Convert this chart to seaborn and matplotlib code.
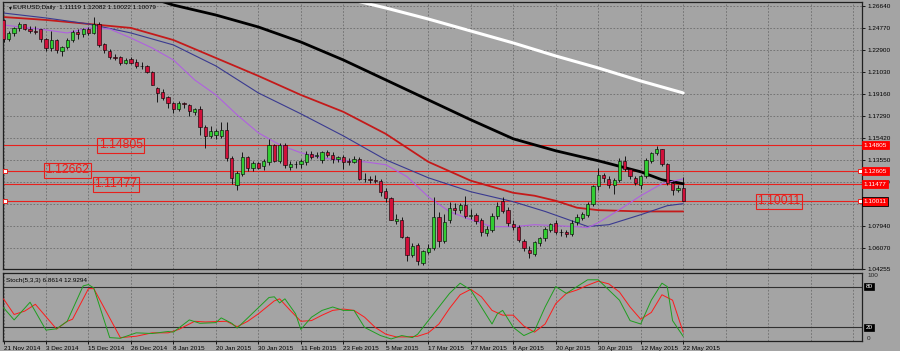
import numpy as np
import matplotlib
matplotlib.use("Agg")
import matplotlib.pyplot as plt
import seaborn as sns

# ---------------- data ----------------
opens = [1.2545, 1.2389, 1.2440, 1.2478, 1.2510, 1.2475, 1.2452, 1.2470, 1.2385, 1.2310,
         1.2378, 1.2280, 1.2320, 1.2378, 1.2448, 1.2425, 1.2475, 1.2437, 1.2512, 1.2342,
         1.2286, 1.2230, 1.2230, 1.2179, 1.2218, 1.2188, 1.2158, 1.2157, 1.2108, 1.1969,
         1.1935, 1.1893, 1.1841, 1.1790, 1.1841, 1.1824, 1.1765, 1.1788, 1.1634, 1.1555,
         1.1565, 1.1560, 1.1608, 1.1373, 1.1144, 1.1237, 1.1381, 1.1288, 1.1330, 1.1300,
         1.1334, 1.1484, 1.1342, 1.1484, 1.1294, 1.1322, 1.1322, 1.1334, 1.1405, 1.1390,
         1.1356, 1.1419, 1.1399, 1.1365, 1.1384, 1.1342, 1.1339, 1.1362, 1.1192, 1.1190,
         1.1185, 1.1178, 1.1087, 1.1030, 1.0831, 1.0846, 1.0696, 1.0548, 1.0633, 1.0477,
         1.0567, 1.0605, 1.0870, 1.0661, 1.0846, 1.0948, 1.0931, 1.0974, 1.0874, 1.0888,
         1.0846, 1.0733, 1.0760, 1.0874, 1.1002, 1.0925, 1.0809, 1.0783, 1.0661, 1.0590,
         1.0556, 1.0647, 1.0690, 1.0760, 1.0817, 1.0737, 1.0737, 1.0726, 1.0823, 1.0860,
         1.0888, 1.0982, 1.1129, 1.1229, 1.1192, 1.1144, 1.1186, 1.1350, 1.1277, 1.1201,
         1.1144, 1.1214, 1.1350, 1.1413, 1.1447, 1.1320, 1.1158, 1.1095, 1.11119]
highs = [1.2555, 1.2455, 1.2490, 1.2530, 1.2515, 1.2500, 1.2500, 1.2475, 1.2395, 1.2455,
         1.2385, 1.2325, 1.2390, 1.2460, 1.2470, 1.2480, 1.2485, 1.2575, 1.2530, 1.2352,
         1.2300, 1.2262, 1.2245, 1.2225, 1.2232, 1.2215, 1.2190, 1.2165, 1.2110, 1.1975,
         1.1960, 1.1900, 1.1845, 1.1860, 1.1850, 1.1835, 1.1800, 1.1815, 1.1650, 1.1640,
         1.1620, 1.1680, 1.1680, 1.1385, 1.1260, 1.1425, 1.1390, 1.1350, 1.1340, 1.1360,
         1.1535, 1.1490, 1.1500, 1.1498, 1.1345, 1.1350, 1.1360, 1.1430, 1.1430, 1.1420,
         1.1430, 1.1440, 1.1420, 1.1390, 1.1395, 1.1370, 1.1390, 1.1380, 1.1240, 1.1215,
         1.1230, 1.1190, 1.1115, 1.1040, 1.0890, 1.0870, 1.0710, 1.0650, 1.0645, 1.0590,
         1.0640, 1.1040, 1.0910, 1.0890, 1.1000, 1.0985, 1.0990, 1.1050, 1.0940, 1.0900,
         1.0860, 1.0790, 1.0900, 1.1000, 1.1035, 1.0950, 1.0845, 1.0800, 1.0680, 1.0620,
         1.0665, 1.0700, 1.0780, 1.0820, 1.0840, 1.0770, 1.0760, 1.0845, 1.0890, 1.0910,
         1.0995, 1.1140, 1.1290, 1.1240, 1.1220, 1.1200, 1.1370, 1.1390, 1.1290, 1.1220,
         1.1230, 1.1370, 1.1425, 1.1470, 1.1450, 1.1330, 1.1175, 1.1140, 1.12082]
lows = [1.2358, 1.2370, 1.2410, 1.2455, 1.2462, 1.2440, 1.2425, 1.2360, 1.2285, 1.2280,
        1.2265, 1.2245, 1.2300, 1.2360, 1.2385, 1.2405, 1.2420, 1.2425, 1.2320, 1.2270,
        1.2215, 1.2205, 1.2165, 1.2170, 1.2170, 1.2140, 1.2130, 1.2095, 1.1990, 1.1852,
        1.1870, 1.1800, 1.1756, 1.1775, 1.1800, 1.1730, 1.1735, 1.1570, 1.1459, 1.1540,
        1.1530, 1.1545, 1.1345, 1.1150, 1.1098, 1.1220, 1.1260, 1.1260, 1.1275, 1.1270,
        1.1315, 1.1340, 1.1330, 1.1290, 1.1270, 1.1290, 1.1290, 1.1310, 1.1360, 1.1370,
        1.1330, 1.1380, 1.1330, 1.1340, 1.1280, 1.1310, 1.1325, 1.1180, 1.1170, 1.1160,
        1.1160, 1.1050, 1.1000, 1.0840, 1.0810, 1.0690, 1.0495, 1.0530, 1.0460, 1.0460,
        1.0550, 1.0590, 1.0615, 1.0650, 1.0820, 1.0890, 1.0900, 1.0860, 1.0850, 1.0810,
        1.0710, 1.0710, 1.0740, 1.0850, 1.0900, 1.0790, 1.0760, 1.0655, 1.0580, 1.0520,
        1.0535, 1.0620, 1.0665, 1.0740, 1.0720, 1.0705, 1.0700, 1.0710, 1.0800, 1.0840,
        1.0870, 1.0960, 1.1100, 1.1170, 1.1120, 1.1067, 1.1170, 1.1260, 1.1190, 1.1140,
        1.1110, 1.1200, 1.1330, 1.1400, 1.1300, 1.1140, 1.1060, 1.1085, 1.10022]
closes = [1.2389, 1.2440, 1.2478, 1.2510, 1.2475, 1.2452, 1.2445, 1.2385, 1.2310, 1.2378,
          1.2290, 1.2320, 1.2378, 1.2448, 1.2430, 1.2468, 1.2435, 1.2512, 1.2338, 1.2292,
          1.2230, 1.2228, 1.2179, 1.2205, 1.2180, 1.2158, 1.2155, 1.2108, 1.1995, 1.1926,
          1.1884, 1.1841, 1.1790, 1.1841, 1.1835, 1.1776, 1.1788, 1.1634, 1.1561, 1.1600,
          1.1600, 1.1608, 1.1373, 1.1203, 1.1246, 1.1381, 1.1288, 1.1330, 1.1290, 1.1342,
          1.1484, 1.1345, 1.1480, 1.1308, 1.1322, 1.1322, 1.1342, 1.1405, 1.1380, 1.1399,
          1.1419, 1.1399, 1.1365, 1.1382, 1.1334, 1.1340, 1.1362, 1.1192, 1.1195, 1.1183,
          1.1172, 1.1078, 1.1030, 1.0846, 1.0854, 1.0696, 1.0548, 1.0624, 1.0491, 1.0576,
          1.0607, 1.0868, 1.0661, 1.0823, 1.0948, 1.0925, 1.0974, 1.0874, 1.0884, 1.0831,
          1.0738, 1.0767, 1.0879, 1.0965, 1.0917, 1.0817, 1.0780, 1.0669, 1.0605, 1.0562,
          1.0652, 1.0690, 1.0767, 1.0811, 1.0737, 1.0737, 1.0726, 1.0817, 1.0868, 1.0897,
          1.0982, 1.1129, 1.1229, 1.1201, 1.1144, 1.1186, 1.1350, 1.1277, 1.1214, 1.1158,
          1.1214, 1.1356, 1.1413, 1.1447, 1.1320, 1.1158, 1.1101, 1.1115, 1.10079]

date_labels = ["21 Nov 2014", "3 Dec 2014", "15 Dec 2014", "26 Dec 2014", "8 Jan 2015",
               "20 Jan 2015", "30 Jan 2015", "11 Feb 2015", "23 Feb 2015", "5 Mar 2015",
               "17 Mar 2015", "27 Mar 2015", "8 Apr 2015", "20 Apr 2015", "30 Apr 2015",
               "12 May 2015", "22 May 2015"]
price_ticks = [1.26640, 1.24770, 1.22900, 1.21030, 1.19160, 1.17290, 1.15420,
               1.13550, 1.11680, 1.09810, 1.07940, 1.06070, 1.04255]
hidden_ticks = [1.09810]  # covered by the 1.10011 tag in the original

# moving averages (bar index, price)
ma_white_bar = [66, 72, 80, 88, 96, 104, 112, 120, 128]
ma_white = [1.2715, 1.2650, 1.2556, 1.2454, 1.2352, 1.2241, 1.2139, 1.2028, 1.1926]
ma_black_bar = [29, 32, 40, 48, 56, 64, 72, 80, 88, 96, 104, 112, 120, 124, 128]
ma_black = [1.2718, 1.2675, 1.2590, 1.2488, 1.2360, 1.2207, 1.2037, 1.1867, 1.1697,
            1.1535, 1.1433, 1.1348, 1.1254, 1.1186, 1.1152]
ma_red_bar = [0, 8, 16, 24, 32, 40, 48, 56, 64, 72, 80, 88, 96, 100, 104, 108, 112, 120, 128]
ma_red = [1.2573, 1.2548, 1.2514, 1.2480, 1.2377, 1.2224, 1.2071, 1.1909, 1.1765, 1.1577,
          1.1339, 1.1178, 1.1075, 1.1050, 1.1007, 1.0948, 1.0927, 1.0916, 1.0916]
ma_blue_bar = [0, 8, 16, 24, 32, 40, 48, 56, 64, 72, 80, 88, 96, 102, 108, 110, 114, 120, 125, 128]
ma_blue = [1.2607, 1.2565, 1.2514, 1.2437, 1.2335, 1.2156, 1.1926, 1.1748, 1.1560, 1.1356,
           1.1203, 1.1084, 1.0999, 1.0916, 1.0820, 1.0788, 1.0803, 1.0888, 1.0965, 1.0982]
ma_purple_bar = [0, 8, 12, 16, 20, 24, 28, 32, 36, 40, 44, 48, 52, 56, 60, 64, 68, 72, 76,
                 80, 84, 88, 92, 96, 100, 104, 108, 110, 112, 116, 120, 124, 128]
ma_purple = [1.2505, 1.2463, 1.2437, 1.2480, 1.2471, 1.2394, 1.2309, 1.2207, 1.2037, 1.1909,
             1.1739, 1.1586, 1.1484, 1.1416, 1.1373, 1.1348, 1.1339, 1.1314, 1.1212, 1.1041,
             1.0914, 1.0846, 1.0786, 1.0786, 1.0803, 1.0795, 1.0786, 1.0778, 1.0820, 1.0931,
             1.1050, 1.1152, 1.1194]

# horizontal levels
levels = [1.14805, 1.12605, 1.11477, 1.10011]
level_tags = ["1.14805", "1.12605", "1.11477", "1.10011"]

# Stochastic(5,3,3)
stoch_k_bar = [0, 2, 5, 8, 10, 12, 15, 16, 17, 20, 22, 25, 28, 31, 32, 35, 37, 40, 41, 43,
               44, 46, 48, 50, 51, 52, 53, 55, 56, 58, 60, 62, 64, 66, 68, 71, 73, 75, 77,
               78, 81, 84, 86, 88, 90, 92, 93, 94, 96, 98, 100, 102, 104, 106, 108, 110,
               112, 114, 116, 118, 120, 122, 124, 125, 126, 128]
stoch_k = [49, 31, 57, 16, 18, 29, 81, 83, 78, 5, 4, 12, 11, 14, 13, 31, 26, 27, 34, 26,
           19, 34, 49, 64, 65, 56, 62, 40, 17, 35, 45, 50, 45, 45, 20, 8, 3, 8, 5,
           10, 40, 70, 85, 75, 50, 25, 40, 45, 20, 8, 15, 50, 80, 70, 80, 90,
           90, 75, 60, 30, 25, 60, 85, 80, 30, 6.86]
stoch_d_bar = [0, 2, 4, 6, 10, 12, 13, 16, 17, 22, 25, 28, 31, 33, 36, 38, 42, 44, 46, 48,
               51, 52, 54, 56, 58, 60, 62, 64, 66, 68, 70, 72, 74, 76, 78, 80, 82, 84, 86,
               88, 90, 92, 94, 96, 98, 100, 102, 104, 106, 108, 110, 112, 114, 116, 118,
               120, 122, 124, 126, 128]
stoch_d = [62, 39, 44, 54, 17.5, 29, 32, 77, 77, 5, 7, 12, 12, 17, 29, 28, 29, 21, 29, 40,
           59, 62, 45, 29, 30, 38, 45, 47, 45, 35, 20, 10, 6, 6, 7, 12, 25, 48, 68,
           76, 65, 45, 38, 38, 22, 13, 25, 55, 70, 75, 82, 88, 84, 72, 50,
           32, 42, 68, 60, 12.93]

# ---------------- drawing ----------------
sns.set_theme(style="white")
plt.rcParams['font.family'] = ['Liberation Sans', 'DejaVu Sans']

BG = "#a4a4a4"
GRID = "#6c6c6c"
BULL = "#32cd32"
BEAR = "#d0103a"
LINE_RED = "#e8201c"
SMALL = 4.6

idx = np.arange(len(opens))
o = np.array(opens); h = np.array(highs); l = np.array(lows); c = np.array(closes)
step = 5.31
x0 = -0.5 / step
x1 = (862 - 3.5) / step

fig = plt.figure(figsize=(9, 3.51), dpi=100, facecolor=BG)
ax = fig.add_axes([3 / 900, 1 - 269 / 351, 859 / 900, 267 / 351], facecolor=BG)
ax2 = fig.add_axes([3 / 900, 1 - 341 / 351, 859 / 900, 68 / 351], facecolor=BG)

grid_bars = np.arange(0, 161, 8)
for a in (ax, ax2):
    for gb in grid_bars:
        a.axvline(gb, color=GRID, lw=0.6, ls=(0, (2, 2)), zorder=0)
    for s in a.spines.values():
        s.set_color("#202020")
        s.set_linewidth(0.9)
    a.set_xlim(x0, x1)

for pt in price_ticks[:-1]:
    ax.axhline(pt, color=GRID, lw=0.6, ls=(0, (2, 2)), zorder=0)

# moving averages
sns.lineplot(x=ma_white_bar, y=ma_white, ax=ax, color="white", lw=2.2, zorder=2)
sns.lineplot(x=ma_black_bar, y=ma_black, ax=ax, color="black", lw=2.0, zorder=2)
sns.lineplot(x=ma_red_bar, y=ma_red, ax=ax, color="#c41a1a", lw=1.3, zorder=2)
sns.lineplot(x=ma_blue_bar, y=ma_blue, ax=ax, color="#3a3a90", lw=0.8, zorder=2)
sns.lineplot(x=ma_purple_bar, y=ma_purple, ax=ax, color="#b060e0", lw=0.8, zorder=2)

# horizontal levels
for lv in levels:
    ax.axhline(lv, color=LINE_RED, lw=0.8, zorder=1)

# candles
up = c >= o
ax.vlines(idx, l, h, color="black", lw=0.6, zorder=3)
ax.bar(idx, np.maximum(np.abs(c - o), 0.00005), bottom=np.minimum(o, c), width=0.62,
       color=np.where(up, BULL, BEAR), edgecolor="black", linewidth=0.4, zorder=4)

# level markers
ax.plot([x0 + 0.35, x0 + 0.35], [levels[1], levels[3]], ls="none", marker="s", ms=2.5,
        mfc="white", mec=LINE_RED, mew=0.7, zorder=5, clip_on=False)
ax.plot([x1 - 0.3, x1 - 0.3], [levels[1], levels[3]], ls="none", marker="s", ms=2.5,
        mfc="white", mec=LINE_RED, mew=0.7, zorder=5, clip_on=False)

# text boxes on chart
box = dict(boxstyle="square,pad=0.12", fc="none", ec=LINE_RED, lw=0.8)
ax.text(22.1, levels[0], "1.14805", color=LINE_RED, fontsize=8.8, ha="center", va="center", bbox=box, zorder=6)
ax.text(12.0, 1.12662, "1.12662", color=LINE_RED, fontsize=8.8, ha="center", va="center", bbox=box, zorder=6)
ax.text(21.2, levels[2], "1.11477", color=LINE_RED, fontsize=8.8, ha="center", va="center", bbox=box, zorder=6)
ax.text(146.0, levels[3], "1.10011", color=LINE_RED, fontsize=8.8, ha="center", va="center", bbox=box, zorder=6)

ax.set_ylim(1.0429, 1.2701)
ax.yaxis.tick_right()
ax.set_yticks(price_ticks)
ax.set_yticklabels(["" if p in hidden_ticks else f"{p:.5f}" for p in price_ticks])
ax.tick_params(axis="y", labelsize=SMALL, length=2.5, pad=1.5, colors="black", width=0.6)
ax.set_xticks([])

# price tags on the axis
trans = ax.get_yaxis_transform()
for lv, tag in zip(levels, level_tags):
    ec = "black" if tag == "1.10011" else "#ff0000"
    ax.text(1.002, lv, tag, transform=trans, fontsize=SMALL, color="white", ha="left",
            va="center", zorder=7, clip_on=False,
            bbox=dict(boxstyle="square,pad=0.25", fc="#ff0000", ec=ec, lw=0.6))

fig.text(7 / 900, 1 - 8 / 351, "\u25bc", fontsize=3.5, color="black", va="center")
fig.text(13 / 900, 1 - 8 / 351, "EURUSD,Daily  1.11119 1.12082 1.10022 1.10079",
         fontsize=SMALL, color="black", va="center")

# stochastic panel
ax2.axhline(80, color="#303030", lw=0.8, zorder=1)
ax2.axhline(20, color="#303030", lw=0.8, zorder=1)
sns.lineplot(x=stoch_d_bar, y=stoch_d, ax=ax2, color="#ff1a1a", lw=0.7, zorder=3)
sns.lineplot(x=stoch_k_bar, y=stoch_k, ax=ax2, color="#1f9e1f", lw=0.7, zorder=3)
ax2.set_ylim(0, 100)
ax2.set_yticks([])
ax2.set_ylabel("")
ax.set_ylabel("")
ax2.text(0.003, 0.93, "Stoch(5,3,3) 6.8614 12.9294", transform=ax2.transAxes,
         fontsize=SMALL, va="top", ha="left", color="black")
tr2 = ax2.get_yaxis_transform()
ax2.text(1.006, 100, "100", transform=tr2, fontsize=SMALL, va="top", ha="left", clip_on=False)
ax2.text(1.006, 0, "0", transform=tr2, fontsize=SMALL, va="bottom", ha="left", clip_on=False)
for v in (80, 20):
    ax2.text(1.004, v, str(v), transform=tr2, fontsize=SMALL, va="center", ha="left",
             color="white", clip_on=False,
             bbox=dict(boxstyle="square,pad=0.2", fc="black", ec="black", lw=0.5))

label_bars = np.arange(0, 129, 8)
ax2.set_xticks(label_bars)
ax2.set_xticklabels(date_labels, ha="left")
ax2.tick_params(axis="x", labelsize=SMALL, length=2.5, pad=0.8, width=0.6, colors="black", bottom=True)

fig.savefig("out.png", dpi=100, facecolor=BG)
